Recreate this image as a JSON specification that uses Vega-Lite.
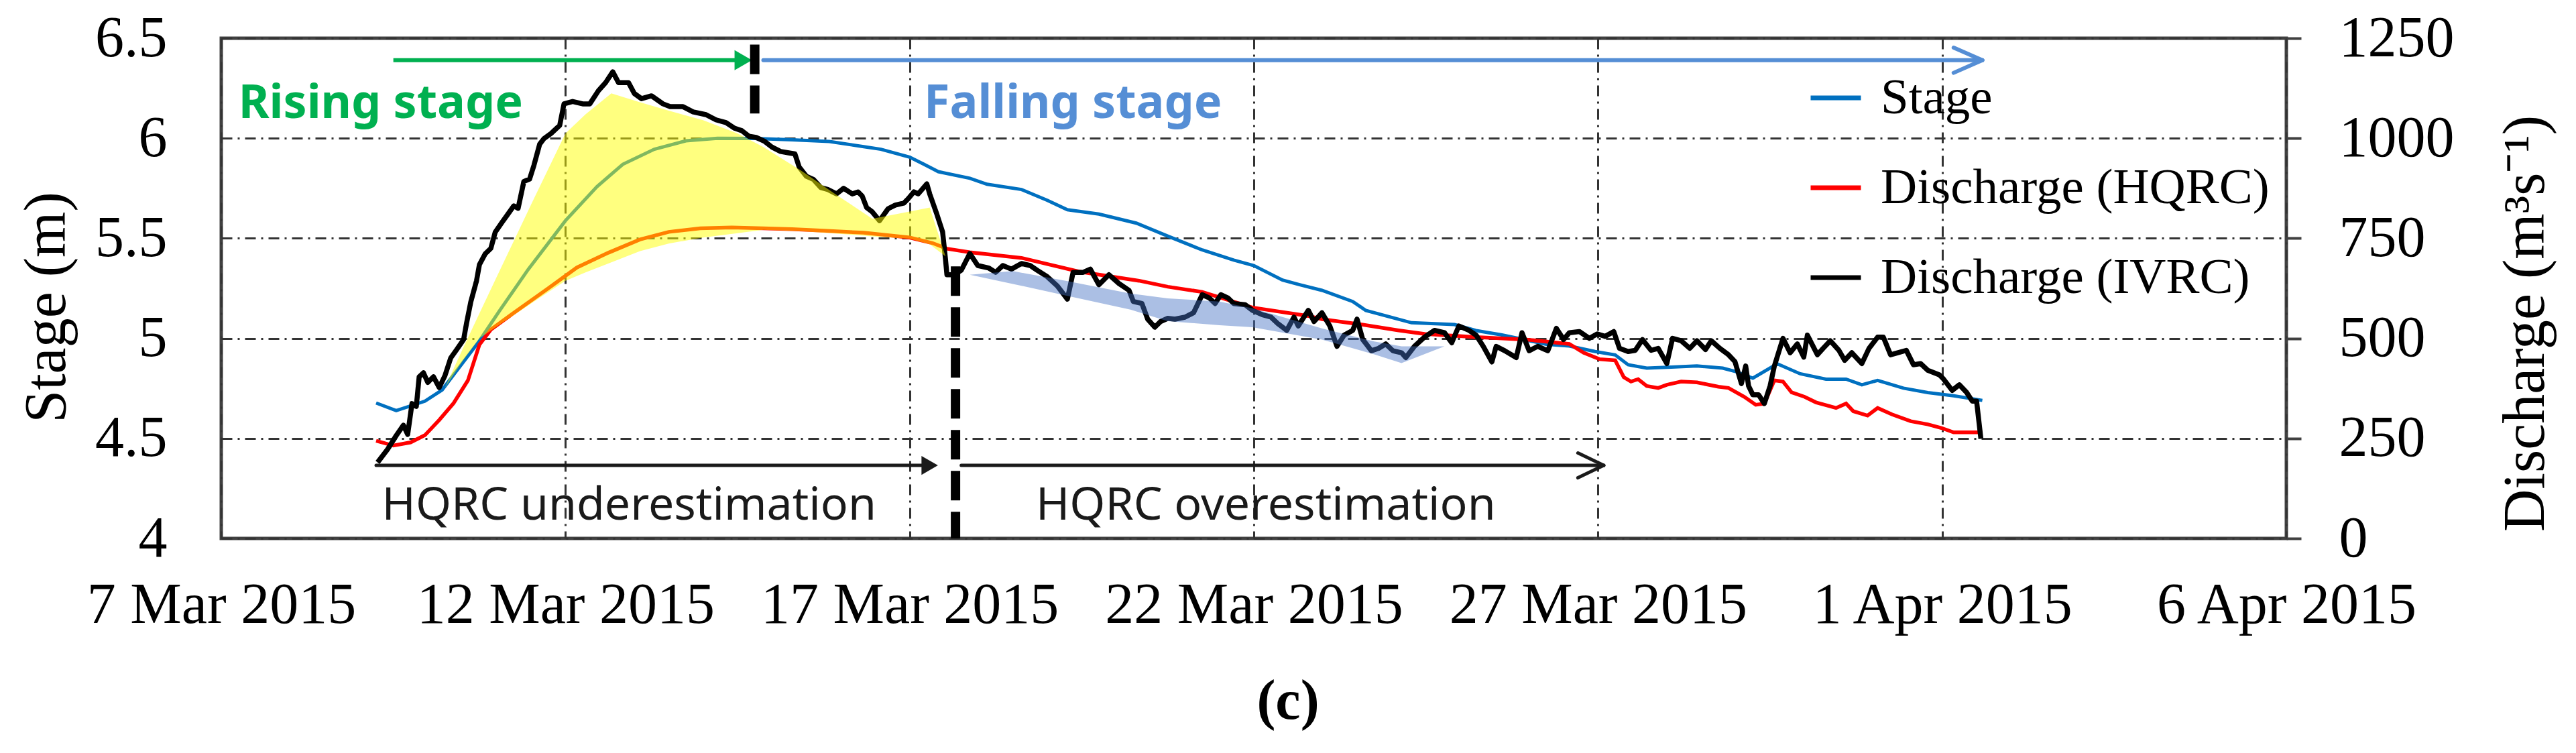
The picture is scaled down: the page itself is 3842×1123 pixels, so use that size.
{
  "$schema": "https://vega.github.io/schema/vega-lite/v6.json",
  "width": 3080,
  "height": 746,
  "autosize": "none",
  "padding": {"left": 330, "top": 57, "right": 432, "bottom": 320},
  "background": "white",
  "config": {
    "font": "Liberation Serif",
    "view": {"stroke": "#404040", "strokeWidth": 5},
    "legend": {"padding": 0}
  },
  "title": {"text": "(c)", "orient": "bottom", "anchor": "middle", "font": "Liberation Serif", "fontSize": 84, "fontWeight": "bold", "color": "#000000", "offset": 61, "dx": 51},
  "datasets": {
    "stage": [
      {"t":"2015-03-09T06:00Z","stage":4.677},{"t":"2015-03-09T13:00Z","stage":4.639},{"t":"2015-03-09T23:00Z","stage":4.686},
      {"t":"2015-03-10T05:00Z","stage":4.742},{"t":"2015-03-10T09:00Z","stage":4.818},{"t":"2015-03-10T18:00Z","stage":4.987},
      {"t":"2015-03-11T01:00Z","stage":5.137},{"t":"2015-03-11T11:00Z","stage":5.344},{"t":"2015-03-12T00:00Z","stage":5.588},
      {"t":"2015-03-12T11:00Z","stage":5.758},{"t":"2015-03-12T20:00Z","stage":5.870},{"t":"2015-03-13T07:00Z","stage":5.945},
      {"t":"2015-03-13T18:00Z","stage":5.987},{"t":"2015-03-14T05:00Z","stage":6.0},{"t":"2015-03-14T18:00Z","stage":5.999},
      {"t":"2015-03-15T07:00Z","stage":5.992},{"t":"2015-03-15T20:00Z","stage":5.984},{"t":"2015-03-16T08:00Z","stage":5.958},
      {"t":"2015-03-16T14:00Z","stage":5.945},{"t":"2015-03-17T00:00Z","stage":5.906},{"t":"2015-03-17T05:00Z","stage":5.870},
      {"t":"2015-03-17T10:00Z","stage":5.833},{"t":"2015-03-17T21:00Z","stage":5.800},{"t":"2015-03-18T03:00Z","stage":5.770},
      {"t":"2015-03-18T15:00Z","stage":5.744},{"t":"2015-03-19T00:00Z","stage":5.690},{"t":"2015-03-19T07:00Z","stage":5.643},
      {"t":"2015-03-19T18:00Z","stage":5.621},{"t":"2015-03-20T07:00Z","stage":5.576},{"t":"2015-03-20T18:00Z","stage":5.511},
      {"t":"2015-03-21T06:00Z","stage":5.442},{"t":"2015-03-21T17:00Z","stage":5.391},{"t":"2015-03-22T00:00Z","stage":5.364},
      {"t":"2015-03-22T10:00Z","stage":5.291},{"t":"2015-03-22T16:00Z","stage":5.268},{"t":"2015-03-22T23:45Z","stage":5.240},
      {"t":"2015-03-23T10:30Z","stage":5.184},{"t":"2015-03-23T15:00Z","stage":5.140},
      {"t":"2015-03-24T07:00Z","stage":5.078},{"t":"2015-03-24T22:00Z","stage":5.069},{"t":"2015-03-25T05:30Z","stage":5.039},
      {"t":"2015-03-25T14:30Z","stage":5.017},{"t":"2015-03-26T06:00Z","stage":4.970},
      {"t":"2015-03-26T14:00Z","stage":4.962},{"t":"2015-03-26T23:00Z","stage":4.934},{"t":"2015-03-27T06:00Z","stage":4.917},
      {"t":"2015-03-27T10:30Z","stage":4.868},{"t":"2015-03-27T17:00Z","stage":4.851},{"t":"2015-03-28T01:30Z","stage":4.856},
      {"t":"2015-03-28T10:30Z","stage":4.862},{"t":"2015-03-28T19:30Z","stage":4.851},{"t":"2015-03-29T00:00Z","stage":4.834},
      {"t":"2015-03-29T06:00Z","stage":4.801},{"t":"2015-03-29T14:30Z","stage":4.873},{"t":"2015-03-29T22:30Z","stage":4.823},
      {"t":"2015-03-30T07:30Z","stage":4.796},{"t":"2015-03-30T14:30Z","stage":4.796},{"t":"2015-03-30T20:00Z","stage":4.768},
      {"t":"2015-03-31T01:30Z","stage":4.790},{"t":"2015-03-31T10:30Z","stage":4.751},{"t":"2015-03-31T19:00Z","stage":4.729},
      {"t":"2015-04-01T04:00Z","stage":4.713},{"t":"2015-04-01T14:00Z","stage":4.690}
    ],
    "hqrc": [
      {"t":"2015-03-09T06:00Z","q":244},{"t":"2015-03-09T12:00Z","q":232},{"t":"2015-03-09T18:00Z","q":240},
      {"t":"2015-03-09T23:00Z","q":258},{"t":"2015-03-10T04:00Z","q":296},{"t":"2015-03-10T09:00Z","q":338},
      {"t":"2015-03-10T14:00Z","q":395},{"t":"2015-03-10T18:00Z","q":484},{"t":"2015-03-10T22:00Z","q":522},
      {"t":"2015-03-11T07:00Z","q":569},{"t":"2015-03-11T18:00Z","q":625},{"t":"2015-03-12T04:00Z","q":677},
      {"t":"2015-03-12T15:00Z","q":714},{"t":"2015-03-13T02:00Z","q":747},{"t":"2015-03-13T12:00Z","q":766},
      {"t":"2015-03-13T23:00Z","q":775},{"t":"2015-03-14T10:00Z","q":777},{"t":"2015-03-14T21:00Z","q":775},
      {"t":"2015-03-15T07:00Z","q":773},{"t":"2015-03-15T18:00Z","q":769},{"t":"2015-03-16T08:00Z","q":764},
      {"t":"2015-03-17T00:00Z","q":752},{"t":"2015-03-17T08:00Z","q":738},{"t":"2015-03-17T13:00Z","q":724},
      {"t":"2015-03-17T21:00Z","q":715},{"t":"2015-03-18T15:00Z","q":701},{"t":"2015-03-19T11:00Z","q":667},
      {"t":"2015-03-20T08:00Z","q":644},{"t":"2015-03-20T18:00Z","q":629},{"t":"2015-03-21T06:00Z","q":616},
      {"t":"2015-03-21T23:30Z","q":577},{"t":"2015-03-22T19:00Z","q":556},{"t":"2015-03-22T23:45Z","q":548},
      {"t":"2015-03-23T14:00Z","q":534},{"t":"2015-03-24T02:30Z","q":520},{"t":"2015-03-24T11:30Z","q":511},
      {"t":"2015-03-25T05:30Z","q":503},{"t":"2015-03-25T23:00Z","q":497},{"t":"2015-03-26T14:00Z","q":486},
      {"t":"2015-03-26T19:00Z","q":464},{"t":"2015-03-27T00:30Z","q":448},{"t":"2015-03-27T06:00Z","q":445},
      {"t":"2015-03-27T09:00Z","q":403},{"t":"2015-03-27T11:30Z","q":392},{"t":"2015-03-27T14:00Z","q":398},
      {"t":"2015-03-27T17:00Z","q":381},{"t":"2015-03-27T21:00Z","q":376},{"t":"2015-03-28T00:00Z","q":384},
      {"t":"2015-03-28T05:00Z","q":392},{"t":"2015-03-28T10:30Z","q":390},{"t":"2015-03-28T18:00Z","q":379},
      {"t":"2015-03-28T21:30Z","q":376},{"t":"2015-03-29T03:00Z","q":354},{"t":"2015-03-29T07:00Z","q":334},
      {"t":"2015-03-29T10:00Z","q":337},{"t":"2015-03-29T13:30Z","q":395},{"t":"2015-03-29T16:30Z","q":392},
      {"t":"2015-03-29T19:30Z","q":365},{"t":"2015-03-30T00:00Z","q":354},{"t":"2015-03-30T04:00Z","q":340},
      {"t":"2015-03-30T11:00Z","q":326},{"t":"2015-03-30T14:30Z","q":337},{"t":"2015-03-30T17:00Z","q":318},
      {"t":"2015-03-30T22:00Z","q":307},{"t":"2015-03-31T01:30Z","q":326},{"t":"2015-03-31T06:30Z","q":310},
      {"t":"2015-03-31T13:00Z","q":293},{"t":"2015-03-31T19:00Z","q":285},{"t":"2015-03-31T23:45Z","q":276},
      {"t":"2015-04-01T04:00Z","q":265},{"t":"2015-04-01T14:00Z","q":265}
    ],
    "ivrc": [
      {"t":"2015-03-09T06:30Z","q":190},{"t":"2015-03-09T10:00Z","q":223},{"t":"2015-03-09T13:00Z","q":257},
      {"t":"2015-03-09T15:30Z","q":283},{"t":"2015-03-09T17:00Z","q":260},{"t":"2015-03-09T18:30Z","q":337},
      {"t":"2015-03-09T20:00Z","q":330},{"t":"2015-03-09T21:00Z","q":404},{"t":"2015-03-09T22:30Z","q":414},
      {"t":"2015-03-10T00:00Z","q":390},{"t":"2015-03-10T02:00Z","q":404},{"t":"2015-03-10T04:00Z","q":377},
      {"t":"2015-03-10T06:00Z","q":407},{"t":"2015-03-10T08:00Z","q":451},{"t":"2015-03-10T10:00Z","q":471},
      {"t":"2015-03-10T12:30Z","q":497},{"t":"2015-03-10T13:30Z","q":537},{"t":"2015-03-10T15:00Z","q":591},
      {"t":"2015-03-10T17:00Z","q":644},{"t":"2015-03-10T18:00Z","q":684},{"t":"2015-03-10T20:00Z","q":711},
      {"t":"2015-03-10T22:00Z","q":725},{"t":"2015-03-10T23:30Z","q":765},{"t":"2015-03-11T02:00Z","q":791},
      {"t":"2015-03-11T04:00Z","q":811},{"t":"2015-03-11T06:00Z","q":831},{"t":"2015-03-11T07:30Z","q":825},
      {"t":"2015-03-11T09:30Z","q":892},{"t":"2015-03-11T11:30Z","q":898},{"t":"2015-03-11T13:00Z","q":932},
      {"t":"2015-03-11T15:00Z","q":985},{"t":"2015-03-11T16:30Z","q":999},{"t":"2015-03-11T19:00Z","q":1012},
      {"t":"2015-03-11T22:00Z","q":1032},{"t":"2015-03-11T23:30Z","q":1086},{"t":"2015-03-12T02:30Z","q":1092},
      {"t":"2015-03-12T06:00Z","q":1086},{"t":"2015-03-12T08:30Z","q":1086},{"t":"2015-03-12T11:30Z","q":1119},
      {"t":"2015-03-12T14:00Z","q":1139},{"t":"2015-03-12T16:30Z","q":1166},{"t":"2015-03-12T18:30Z","q":1139},
      {"t":"2015-03-12T22:00Z","q":1139},{"t":"2015-03-13T00:00Z","q":1112},{"t":"2015-03-13T02:30Z","q":1099},
      {"t":"2015-03-13T06:00Z","q":1106},{"t":"2015-03-13T10:00Z","q":1086},{"t":"2015-03-13T12:30Z","q":1079},
      {"t":"2015-03-13T17:00Z","q":1079},{"t":"2015-03-13T20:30Z","q":1066},{"t":"2015-03-14T01:00Z","q":1059},
      {"t":"2015-03-14T04:30Z","q":1046},{"t":"2015-03-14T08:00Z","q":1039},{"t":"2015-03-14T11:00Z","q":1025},
      {"t":"2015-03-14T13:30Z","q":1019},{"t":"2015-03-14T16:00Z","q":1005},{"t":"2015-03-14T18:30Z","q":1002},
      {"t":"2015-03-14T21:30Z","q":992},{"t":"2015-03-15T00:00Z","q":978},{"t":"2015-03-15T03:00Z","q":967},
      {"t":"2015-03-15T05:30Z","q":964},{"t":"2015-03-15T08:00Z","q":961},{"t":"2015-03-15T09:30Z","q":928},
      {"t":"2015-03-15T12:00Z","q":905},{"t":"2015-03-15T14:30Z","q":897},{"t":"2015-03-15T17:00Z","q":877},
      {"t":"2015-03-15T19:30Z","q":872},{"t":"2015-03-15T22:30Z","q":861},{"t":"2015-03-16T01:00Z","q":875},
      {"t":"2015-03-16T04:00Z","q":861},{"t":"2015-03-16T06:00Z","q":866},{"t":"2015-03-16T07:30Z","q":855},
      {"t":"2015-03-16T09:00Z","q":827},{"t":"2015-03-16T11:00Z","q":816},{"t":"2015-03-16T13:30Z","q":794},
      {"t":"2015-03-16T16:30Z","q":824},{"t":"2015-03-16T19:00Z","q":833},{"t":"2015-03-16T22:00Z","q":838},
      {"t":"2015-03-16T23:30Z","q":849},{"t":"2015-03-17T01:30Z","q":866},{"t":"2015-03-17T03:00Z","q":861},
      {"t":"2015-03-17T06:00Z","q":886},{"t":"2015-03-17T07:00Z","q":861},{"t":"2015-03-17T09:30Z","q":810},
      {"t":"2015-03-17T11:30Z","q":766},{"t":"2015-03-17T12:30Z","q":698},{"t":"2015-03-17T13:00Z","q":659},
      {"t":"2015-03-17T15:30Z","q":659},{"t":"2015-03-17T18:00Z","q":670},{"t":"2015-03-17T21:00Z","q":712},
      {"t":"2015-03-17T23:45Z","q":682},{"t":"2015-03-18T03:30Z","q":676},{"t":"2015-03-18T06:00Z","q":665},
      {"t":"2015-03-18T08:30Z","q":682},{"t":"2015-03-18T11:30Z","q":673},{"t":"2015-03-18T15:00Z","q":687},
      {"t":"2015-03-18T18:00Z","q":682},{"t":"2015-03-18T20:30Z","q":670},{"t":"2015-03-19T00:00Z","q":654},
      {"t":"2015-03-19T03:30Z","q":631},{"t":"2015-03-19T07:00Z","q":598},{"t":"2015-03-19T09:00Z","q":665},
      {"t":"2015-03-19T12:30Z","q":665},{"t":"2015-03-19T15:00Z","q":673},{"t":"2015-03-19T18:00Z","q":634},
      {"t":"2015-03-19T21:30Z","q":659},{"t":"2015-03-20T01:00Z","q":637},{"t":"2015-03-20T04:30Z","q":620},
      {"t":"2015-03-20T06:00Z","q":592},{"t":"2015-03-20T09:00Z","q":587},{"t":"2015-03-20T11:00Z","q":548},
      {"t":"2015-03-20T13:30Z","q":528},{"t":"2015-03-20T15:30Z","q":542},{"t":"2015-03-20T18:00Z","q":550},
      {"t":"2015-03-20T20:30Z","q":548},{"t":"2015-03-21T00:00Z","q":553},{"t":"2015-03-21T03:00Z","q":564},
      {"t":"2015-03-21T06:00Z","q":609},{"t":"2015-03-21T08:30Z","q":601},{"t":"2015-03-21T10:30Z","q":587},
      {"t":"2015-03-21T12:30Z","q":609},{"t":"2015-03-21T15:00Z","q":601},{"t":"2015-03-21T17:00Z","q":587},
      {"t":"2015-03-21T21:00Z","q":584},{"t":"2015-03-21T23:30Z","q":570},{"t":"2015-03-22T03:00Z","q":559},
      {"t":"2015-03-22T06:00Z","q":553},{"t":"2015-03-22T08:30Z","q":536},{"t":"2015-03-22T11:30Z","q":520},
      {"t":"2015-03-22T14:00Z","q":553},{"t":"2015-03-22T15:30Z","q":531},{"t":"2015-03-22T19:00Z","q":570},
      {"t":"2015-03-22T21:00Z","q":542},{"t":"2015-03-22T23:45Z","q":564},{"t":"2015-03-23T02:30Z","q":531},
      {"t":"2015-03-23T05:00Z","q":480},{"t":"2015-03-23T07:30Z","q":508},{"t":"2015-03-23T10:30Z","q":520},
      {"t":"2015-03-23T12:00Z","q":548},{"t":"2015-03-23T14:00Z","q":497},{"t":"2015-03-23T17:00Z","q":469},
      {"t":"2015-03-23T19:30Z","q":475},{"t":"2015-03-23T22:00Z","q":486},{"t":"2015-03-24T00:30Z","q":469},
      {"t":"2015-03-24T03:30Z","q":464},{"t":"2015-03-24T05:00Z","q":452},{"t":"2015-03-24T08:00Z","q":480},
      {"t":"2015-03-24T11:30Z","q":503},{"t":"2015-03-24T15:00Z","q":520},{"t":"2015-03-24T18:30Z","q":514},
      {"t":"2015-03-24T21:00Z","q":489},{"t":"2015-03-24T23:30Z","q":531},{"t":"2015-03-25T03:00Z","q":520},
      {"t":"2015-03-25T05:30Z","q":508},{"t":"2015-03-25T08:00Z","q":480},{"t":"2015-03-25T11:00Z","q":441},
      {"t":"2015-03-25T12:30Z","q":480},{"t":"2015-03-25T15:30Z","q":469},{"t":"2015-03-25T19:30Z","q":452},
      {"t":"2015-03-25T21:30Z","q":514},{"t":"2015-03-26T00:00Z","q":469},{"t":"2015-03-26T03:00Z","q":480},
      {"t":"2015-03-26T06:30Z","q":469},{"t":"2015-03-26T09:30Z","q":525},{"t":"2015-03-26T12:00Z","q":497},
      {"t":"2015-03-26T14:00Z","q":514},{"t":"2015-03-26T17:30Z","q":517},{"t":"2015-03-26T21:00Z","q":500},
      {"t":"2015-03-26T23:45Z","q":511},{"t":"2015-03-27T02:30Z","q":505},{"t":"2015-03-27T05:30Z","q":517},
      {"t":"2015-03-27T07:30Z","q":475},{"t":"2015-03-27T10:30Z","q":467},{"t":"2015-03-27T13:00Z","q":470},
      {"t":"2015-03-27T15:30Z","q":497},{"t":"2015-03-27T18:30Z","q":470},{"t":"2015-03-27T21:00Z","q":475},
      {"t":"2015-03-28T00:00Z","q":437},{"t":"2015-03-28T02:00Z","q":500},{"t":"2015-03-28T05:00Z","q":494},
      {"t":"2015-03-28T08:00Z","q":475},{"t":"2015-03-28T10:30Z","q":494},{"t":"2015-03-28T13:30Z","q":472},
      {"t":"2015-03-28T15:30Z","q":494},{"t":"2015-03-28T18:30Z","q":475},{"t":"2015-03-28T21:30Z","q":459},
      {"t":"2015-03-28T23:45Z","q":442},{"t":"2015-03-29T02:00Z","q":387},{"t":"2015-03-29T03:30Z","q":431},
      {"t":"2015-03-29T04:30Z","q":381},{"t":"2015-03-29T06:00Z","q":359},{"t":"2015-03-29T08:00Z","q":359},
      {"t":"2015-03-29T10:00Z","q":337},{"t":"2015-03-29T12:00Z","q":381},{"t":"2015-03-29T13:30Z","q":431},
      {"t":"2015-03-29T16:30Z","q":500},{"t":"2015-03-29T19:00Z","q":464},{"t":"2015-03-29T21:30Z","q":486},
      {"t":"2015-03-29T23:45Z","q":453},{"t":"2015-03-30T01:00Z","q":508},{"t":"2015-03-30T04:30Z","q":459},
      {"t":"2015-03-30T06:30Z","q":475},{"t":"2015-03-30T09:00Z","q":494},{"t":"2015-03-30T12:00Z","q":470},
      {"t":"2015-03-30T14:00Z","q":445},{"t":"2015-03-30T16:30Z","q":464},{"t":"2015-03-30T20:00Z","q":437},
      {"t":"2015-03-30T22:30Z","q":475},{"t":"2015-03-31T01:30Z","q":503},{"t":"2015-03-31T03:30Z","q":503},
      {"t":"2015-03-31T06:00Z","q":459},{"t":"2015-03-31T08:30Z","q":464},{"t":"2015-03-31T11:30Z","q":470},
      {"t":"2015-03-31T14:00Z","q":434},{"t":"2015-03-31T16:30Z","q":437},{"t":"2015-03-31T19:00Z","q":420},
      {"t":"2015-03-31T23:00Z","q":409},{"t":"2015-04-01T00:30Z","q":398},{"t":"2015-04-01T03:30Z","q":370},
      {"t":"2015-04-01T06:00Z","q":384},{"t":"2015-04-01T08:30Z","q":365},{"t":"2015-04-01T10:30Z","q":343},
      {"t":"2015-04-01T12:00Z","q":343},{"t":"2015-04-01T13:30Z","q":249}
    ],
    "under": [
      {"t":"2015-03-10T06:00Z","q":377,"q2":377},{"t":"2015-03-10T12:00Z","q":471,"q2":442},
      {"t":"2015-03-10T18:00Z","q":562,"q2":500},{"t":"2015-03-11T00:00Z","q":653,"q2":529},
      {"t":"2015-03-11T12:00Z","q":834,"q2":587},{"t":"2015-03-12T00:00Z","q":1012,"q2":644},
      {"t":"2015-03-12T07:00Z","q":1060,"q2":665},{"t":"2015-03-12T16:00Z","q":1112,"q2":690},
      {"t":"2015-03-13T02:00Z","q":1090,"q2":718},{"t":"2015-03-13T12:00Z","q":1069,"q2":737},
      {"t":"2015-03-14T00:00Z","q":1045,"q2":752},{"t":"2015-03-14T12:00Z","q":1012,"q2":763},
      {"t":"2015-03-14T21:00Z","q":978,"q2":771},{"t":"2015-03-15T10:00Z","q":920,"q2":768},
      {"t":"2015-03-15T22:00Z","q":861,"q2":762},{"t":"2015-03-16T11:00Z","q":799,"q2":755},
      {"t":"2015-03-17T00:00Z","q":817,"q2":749},{"t":"2015-03-17T07:00Z","q":827,"q2":735},
      {"t":"2015-03-17T12:30Z","q":705,"q2":705}
    ],
    "over": [
      {"t":"2015-03-17T21:00Z","q":659,"q2":659},{"t":"2015-03-18T12:00Z","q":668,"q2":636},
      {"t":"2015-03-19T07:00Z","q":643,"q2":606},{"t":"2015-03-20T05:00Z","q":612,"q2":572},
      {"t":"2015-03-20T18:00Z","q":600,"q2":543},{"t":"2015-03-21T12:00Z","q":592,"q2":533},
      {"t":"2015-03-21T23:30Z","q":575,"q2":528},{"t":"2015-03-22T23:45Z","q":525,"q2":497},
      {"t":"2015-03-23T18:00Z","q":492,"q2":460},{"t":"2015-03-24T03:30Z","q":480,"q2":438},
      {"t":"2015-03-24T18:30Z","q":480,"q2":480}
    ]
  },
  "encoding": {
    "x": {
      "field": "t", "type": "temporal",
      "scale": {"type": "utc", "domain": [1425686400000, 1428278400000], "nice": false},
      "axis": {
        "title": null,
        "values": [1425686400000, 1426118400000, 1426550400000, 1426982400000, 1427414400000, 1427846400000, 1428278400000],
        "labelExpr": "utcFormat(datum.value, '%-d %b %Y')",
        "labelFont": "Liberation Serif", "labelFontSize": 86, "labelColor": "#000000", "labelPadding": 57,
        "labelOverlap": false, "labelFlush": false, "labelBound": false, "labelLimit": 0,
        "ticks": false, "domain": false,
        "grid": true, "gridColor": "#333333", "gridWidth": 3, "gridDash": [16, 8, 3, 8], "gridOpacity": 1
      }
    }
  },
  "layer": [
    {
      "encoding": {
        "y": {
          "field": "stage", "type": "quantitative",
          "scale": {"domain": [4, 6.5], "nice": false, "zero": false},
          "axis": {
            "orient": "left", "values": [4, 4.5, 5, 5.5, 6, 6.5], "format": "~g",
            "labelFont": "Liberation Serif", "labelFontSize": 86, "labelColor": "#000000", "labelPadding": 81,
            "ticks": false, "domain": false,
            "grid": true, "gridColor": "#333333", "gridWidth": 3, "gridDash": [16, 8, 3, 8], "gridOpacity": 1,
            "title": "Stage (m)", "titleFont": "Liberation Serif", "titleFontSize": 88, "titleFontWeight": "normal",
            "titleColor": "#000000", "titleAngle": 270, "titleX": -260, "titleY": 401, "titleAlign": "center", "titleBaseline": "middle"
          }
        }
      },
      "layer": [
        {
          "data": {"name": "stage"},
          "mark": {"type": "line", "strokeWidth": 5},
          "encoding": {
            "color": {
              "datum": "Stage", "type": "nominal",
              "scale": {"domain": ["Stage", "Discharge (HQRC)", "Discharge (IVRC)"], "range": ["#0070C0", "#FF0000", "#000000"]},
              "legend": {
                "title": null, "orient": "none", "legendX": 2367, "legendY": 48,
                "symbolType": "stroke", "symbolSize": 5625, "symbolStrokeWidth": 7,
                "labelFont": "Liberation Serif", "labelFontSize": 75, "labelColor": "#000000",
                "labelOffset": 26, "rowPadding": 55, "labelLimit": 1000
              }
            }
          }
        },
        {
          "data": {"values": [
            {"t": "2015-03-09T12:00Z", "t2": "2015-03-14T12:00Z", "stage": 6.39, "stage2": 6.39}
          ]},
          "mark": {"type": "rule", "color": "#00B050", "strokeWidth": 6},
          "encoding": {"x2": {"field": "t2"}, "y2": {"field": "stage2"}}
        },
        {
          "data": {"values": [{"t": "2015-03-14T14:00Z", "stage": 6.39}]},
          "mark": {"type": "point", "shape": "triangle-right", "filled": true, "size": 900, "color": "#00B050", "opacity": 1}
        },
        {
          "data": {"values": [
            {"t": "2015-03-14T21:00Z", "t2": "2015-04-01T14:00Z", "stage": 6.39, "stage2": 6.39},
            {"t": "2015-04-01T04:00Z", "t2": "2015-04-01T14:00Z", "stage": 6.453, "stage2": 6.39},
            {"t": "2015-04-01T04:00Z", "t2": "2015-04-01T14:00Z", "stage": 6.327, "stage2": 6.39}
          ]},
          "mark": {"type": "rule", "color": "#558ED5", "strokeWidth": 6, "strokeCap": "round"},
          "encoding": {"x2": {"field": "t2"}, "y2": {"field": "stage2"}}
        },
        {
          "data": {"values": [
            {"t": "2015-03-09T06:00Z", "t2": "2015-03-17T06:00Z", "stage": 4.365, "stage2": 4.365},
            {"t": "2015-03-17T18:00Z", "t2": "2015-03-27T02:00Z", "stage": 4.365, "stage2": 4.365},
            {"t": "2015-03-26T17:00Z", "t2": "2015-03-27T02:00Z", "stage": 4.427, "stage2": 4.365},
            {"t": "2015-03-26T17:00Z", "t2": "2015-03-27T02:00Z", "stage": 4.303, "stage2": 4.365}
          ]},
          "mark": {"type": "rule", "color": "#1a1a1a", "strokeWidth": 5, "strokeCap": "round"},
          "encoding": {"x2": {"field": "t2"}, "y2": {"field": "stage2"}}
        },
        {
          "data": {"values": [{"t": "2015-03-17T07:00Z", "stage": 4.365}]},
          "mark": {"type": "point", "shape": "triangle-right", "filled": true, "size": 800, "color": "#1a1a1a", "opacity": 1}
        },
        {
          "data": {"values": [
            {"t": "2015-03-14T18:00Z", "stage": 6.468, "stage2": 6.124},
            {"t": "2015-03-17T16:00Z", "stage": 5.36, "stage2": 4.0}
          ]},
          "mark": {"type": "rule", "color": "#000000", "strokeWidth": 14, "strokeDash": [44, 17]},
          "encoding": {"y2": {"field": "stage2"}}
        },
        {
          "data": {"values": [{"t": "2015-03-07T06:00Z", "stage": 6.17, "label": "Rising stage"}]},
          "mark": {"type": "text", "align": "left", "baseline": "middle", "font": "Noto Sans", "fontWeight": "bold", "fontSize": 70, "color": "#00B050"},
          "encoding": {"text": {"field": "label"}}
        },
        {
          "data": {"values": [{"t": "2015-03-17T05:00Z", "stage": 6.17, "label": "Falling stage"}]},
          "mark": {"type": "text", "align": "left", "baseline": "middle", "font": "Noto Sans", "fontWeight": "bold", "fontSize": 70, "color": "#558ED5"},
          "encoding": {"text": {"field": "label"}}
        },
        {
          "data": {"values": [
            {"t": "2015-03-09T08:00Z", "stage": 4.16, "label": "HQRC underestimation"},
            {"t": "2015-03-18T20:00Z", "stage": 4.16, "label": "HQRC overestimation"}
          ]},
          "mark": {"type": "text", "align": "left", "baseline": "middle", "font": "Noto Sans", "fontSize": 68, "color": "#1a1a1a"},
          "encoding": {"text": {"field": "label"}}
        }
      ]
    },
    {
      "encoding": {
        "y": {
          "field": "q", "type": "quantitative",
          "scale": {"domain": [0, 1250], "nice": false, "zero": false},
          "axis": {
            "orient": "right", "values": [0, 250, 500, 750, 1000, 1250], "format": "d",
            "labelFont": "Liberation Serif", "labelFontSize": 86, "labelColor": "#000000", "labelPadding": 56,
            "ticks": true, "tickSize": 22, "tickWidth": 4, "tickColor": "#404040", "domain": false, "grid": false,
            "title": "Discharge (m³s⁻¹)", "titleFont": "Liberation Serif", "titleFontSize": 88, "titleFontWeight": "normal",
            "titleColor": "#000000", "titleAngle": 270, "titleX": 357, "titleY": 425, "titleAlign": "center", "titleBaseline": "middle"
          }
        }
      },
      "layer": [
        {
          "data": {"name": "hqrc"},
          "mark": {"type": "line", "strokeWidth": 5.5},
          "encoding": {
            "color": {"datum": "Discharge (HQRC)", "type": "nominal",
              "scale": {"domain": ["Stage", "Discharge (HQRC)", "Discharge (IVRC)"], "range": ["#0070C0", "#FF0000", "#000000"]}}
          }
        },
        {
          "data": {"name": "ivrc"},
          "mark": {"type": "line", "strokeWidth": 7.5, "strokeJoin": "round"},
          "encoding": {
            "color": {"datum": "Discharge (IVRC)", "type": "nominal",
              "scale": {"domain": ["Stage", "Discharge (HQRC)", "Discharge (IVRC)"], "range": ["#0070C0", "#FF0000", "#000000"]}}
          }
        },
        {
          "data": {"name": "under"},
          "mark": {"type": "area", "color": "#FFFF00", "opacity": 0.5},
          "encoding": {"y2": {"field": "q2"}}
        },
        {
          "data": {"name": "over"},
          "mark": {"type": "area", "color": "#4472C4", "opacity": 0.45},
          "encoding": {"y2": {"field": "q2"}}
        }
      ]
    }
  ],
  "resolve": {"scale": {"y": "independent"}}
}
